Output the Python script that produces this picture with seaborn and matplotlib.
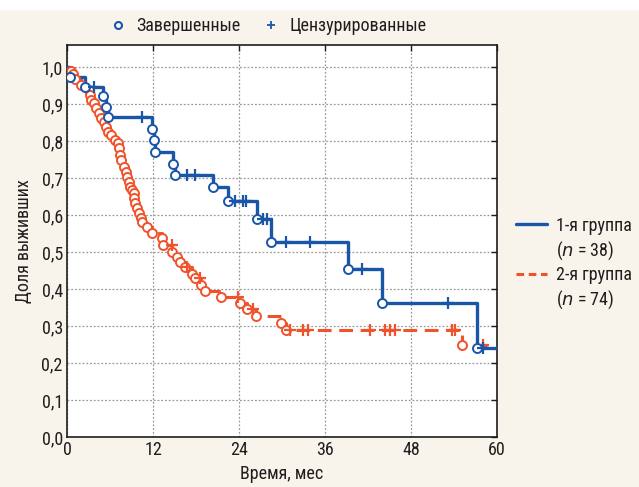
import numpy as np
import pandas as pd
import matplotlib
matplotlib.use("Agg")
import matplotlib.pyplot as plt
from matplotlib import font_manager
from matplotlib.lines import Line2D
from matplotlib.patches import Rectangle
import seaborn as sns

# Группа 1 (n = 38): время события (мес) и доля выживших после события
g1_event_t = [0.4, 2.5, 5.0, 5.5, 5.7, 11.9, 12.1, 12.3, 14.8, 15.1, 20.4, 22.5,
              26.5, 28.5, 39.2, 44.0, 57.2]
g1_event_s = [0.974, 0.947, 0.921, 0.893, 0.866, 0.834, 0.803, 0.771, 0.739, 0.709,
              0.675, 0.638, 0.589, 0.528, 0.454, 0.363, 0.242]
g1_cens_t = [3.8, 10.4, 16.7, 17.9, 23.4, 24.6, 25.0, 27.4, 27.9, 30.6, 33.9,
             41.2, 53.2, 58.0]
g1_end = 60.0

# Группа 2 (n = 74)
g2_event_t = [0.5, 0.9, 1.1, 2.0, 3.0, 3.2, 3.4, 3.7, 4.1, 4.5, 4.8, 5.1, 5.5, 5.7,
              6.2, 6.7, 7.1, 7.2, 7.4, 7.5, 8.0, 8.2, 8.4, 8.6, 8.8, 9.0, 9.3, 9.4,
              9.5, 9.7, 10.1, 10.3, 10.5, 11.1, 11.8, 13.2, 13.4, 14.7, 15.3, 15.8,
              16.5, 17.4, 17.9, 18.7, 19.3, 21.5, 24.1, 25.1, 26.4, 29.9, 30.5, 55.1]
g2_event_s = [0.990, 0.981, 0.969, 0.951, 0.938, 0.924, 0.911, 0.903, 0.889, 0.876,
              0.862, 0.851, 0.838, 0.824, 0.816, 0.803, 0.795, 0.781, 0.762, 0.749,
              0.730, 0.716, 0.703, 0.689, 0.676, 0.668, 0.659, 0.646, 0.632, 0.619,
              0.605, 0.592, 0.581, 0.568, 0.551, 0.537, 0.519, 0.501, 0.487, 0.474,
              0.460, 0.442, 0.429, 0.411, 0.395, 0.379, 0.361, 0.347, 0.328, 0.309,
              0.289, 0.249]
g2_cens_t = [14.6, 16.7, 18.6, 23.8, 25.9, 31.1, 32.9, 33.6, 42.3, 44.4, 45.1, 45.8,
             53.7, 54.1, 58.0]
g2_end = 58.6

group_labels = ["1-я группа", "2-я группа"]
group_n = ["($n$ = 38)", "($n$ = 74)"]

blue = "#1a56a8"
red = "#f0532b"
cream = "#f8f4ec"
ink = "#1e1e1e"

# узкий шрифт, если он есть
installed = {f.name for f in font_manager.fontManager.ttflist}
narrow = None
for name in ["Liberation Sans Narrow", "DejaVu Sans Condensed", "Roboto Condensed",
             "Open Sans Condensed", "Noto Sans Condensed"]:
    if name in installed:
        narrow = name
        break

sns.set_style("white")
if narrow:
    plt.rcParams['font.family'] = [narrow, 'DejaVu Sans']
    base = 13
else:
    plt.rcParams['font.family'] = ['Roboto', 'DejaVu Sans']
    base = 12
plt.rcParams['mathtext.fontset'] = 'dejavusans'


def curve(ev_t, ev_s, end):
    t = [0.0] + list(ev_t) + [end]
    s = [1.0] + list(ev_s) + [ev_s[-1]]
    return pd.DataFrame({"t": t, "s": s})


def cens_points(ev_t, ev_s, cens_t):
    t = np.array([0.0] + list(ev_t))
    s = np.array([1.0] + list(ev_s))
    idx = np.searchsorted(t, cens_t, side="right") - 1
    return pd.DataFrame({"t": cens_t, "s": s[idx]})


fig = plt.figure(figsize=(6.39, 4.87), dpi=100, facecolor=cream)
fig.patches.append(Rectangle((0, 1 - 9 / 487), 1, 9 / 487, transform=fig.transFigure,
                             color="white", zorder=-1))
ax = fig.add_axes([67 / 639, 50 / 487, 430 / 639, 392 / 487])
ax.set_facecolor("white")

c1 = curve(g1_event_t, g1_event_s, g1_end)
c2 = curve(g2_event_t, g2_event_s, g2_end)

sns.lineplot(data=c2, x="t", y="s", ax=ax, color=red, lw=2.2, estimator=None, sort=False,
             drawstyle="steps-post", linestyle=(0, (4.5, 2.5)), zorder=3)
sns.lineplot(data=c1, x="t", y="s", ax=ax, color=blue, lw=2.4, estimator=None, sort=False,
             drawstyle="steps-post", zorder=4)

# события - кружки, цензурирование - крестики
ev2 = pd.DataFrame({"t": g2_event_t, "s": g2_event_s})
ev1 = pd.DataFrame({"t": g1_event_t, "s": g1_event_s})
sns.scatterplot(data=ev2, x="t", y="s", ax=ax, marker="o", s=42, facecolor="white",
                edgecolor=red, linewidth=1.4, zorder=5)
sns.scatterplot(data=ev1, x="t", y="s", ax=ax, marker="o", s=42, facecolor="white",
                edgecolor=blue, linewidth=1.4, zorder=6)
cp2 = cens_points(g2_event_t, g2_event_s, g2_cens_t)
cp1 = cens_points(g1_event_t, g1_event_s, g1_cens_t)
ax.plot(cp2["t"], cp2["s"], ls="none", marker="+", ms=8, mew=1.6, color=red, zorder=5)
ax.plot(cp1["t"], cp1["s"], ls="none", marker="+", ms=8, mew=1.6, color=blue, zorder=6)

ax.set_xlim(0, 60)
ax.set_ylim(0, 1.06)
ax.set_xticks(np.arange(0, 61, 12))
yt = np.round(np.arange(0, 1.01, 0.1), 1)
ax.set_yticks(yt)
ax.set_yticklabels([f"{v:.1f}".replace(".", ",") for v in yt])
ax.tick_params(direction="in", length=4, width=1, labelsize=base, top=True, right=True,
               colors=ink, pad=3)
ax.grid(True, color="#9a9a9a", ls=(0, (1.5, 1.5)), lw=0.9)
for sp in ax.spines.values():
    sp.set_color(ink)
    sp.set_linewidth(1.2)
ax.set_xlabel("Время, мес", fontsize=base, color=ink, labelpad=4)
ax.set_ylabel("Доля выживших", fontsize=base, color=ink, labelpad=6)

# верхняя легенда
top_handles = [
    Line2D([], [], ls="none", marker="o", ms=5, mfc="white", mec=blue, mew=1.5),
    Line2D([], [], ls="none", marker="+", ms=6, mec=blue, mew=1.3),
]
fig.legend(top_handles, ["Завершенные", "Цензурированные"], loc="center",
           bbox_to_anchor=(268 / 639, 1 - 26 / 487), ncol=2, frameon=False,
           fontsize=base, handletextpad=0.5, columnspacing=1.2, handlelength=1.0,
           labelcolor=ink)

# правая легенда: линия на уровне первой строки подписи
blank = Line2D([], [], ls="none")
side_handles = [
    Line2D([], [], color=blue, lw=2.4), blank,
    Line2D([], [], color=red, lw=2.2, ls=(0, (2.5, 1.5))), blank,
]
side_labels = [group_labels[0], group_n[0], group_labels[1], group_n[1]]
fig.legend(side_handles, side_labels,
           loc="center left", bbox_to_anchor=(500 / 639, 1 - 264 / 487), frameon=False,
           fontsize=base, handlelength=1.7, handletextpad=0.5, labelspacing=0.25,
           labelcolor=ink)

fig.savefig("out.png", dpi=100, facecolor=cream)
